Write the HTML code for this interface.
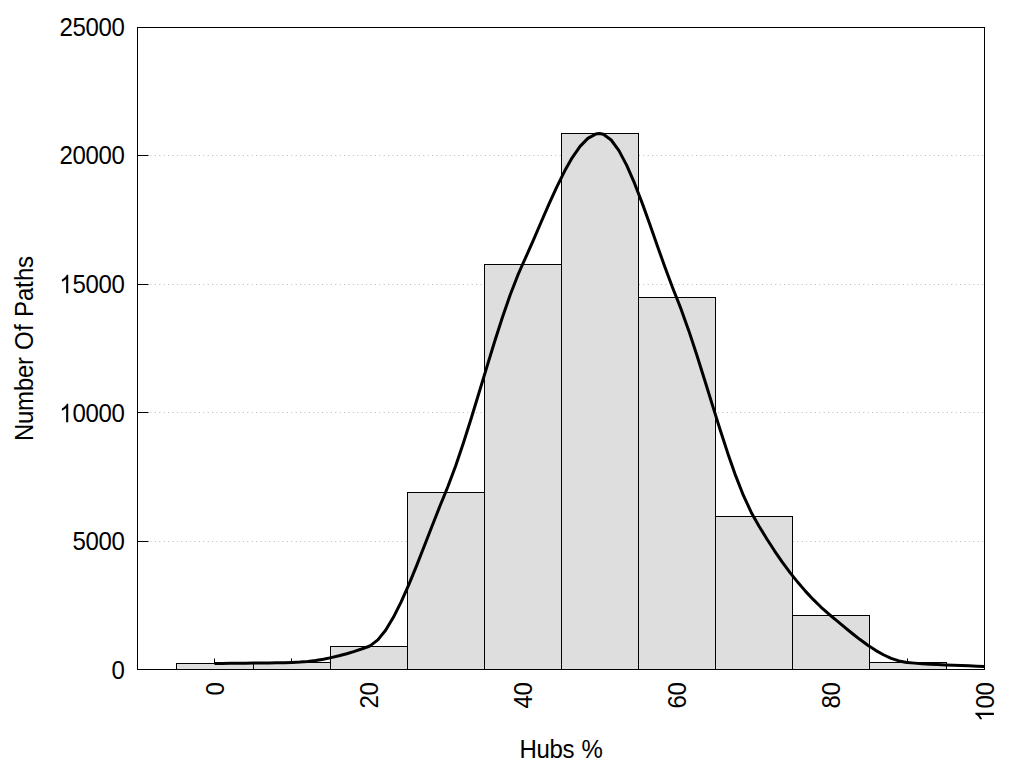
<!DOCTYPE html>
<html><head><meta charset="utf-8"><title>Hubs histogram</title>
<style>
html,body{margin:0;padding:0;background:#fff;}
body{width:1024px;height:768px;overflow:hidden;}
svg{display:block;}
text{font-family:"Liberation Sans",sans-serif;font-size:24px;fill:#000;}
</style></head><body>
<svg width="1024" height="768" viewBox="0 0 1024 768">
<rect x="0" y="0" width="1024" height="768" fill="#ffffff"/>

<g stroke="#b8b8b8" stroke-width="1" stroke-dasharray="1 3.4" fill="none">
<line x1="137.3" y1="155.5" x2="984.5" y2="155.5"/>
<line x1="137.3" y1="284.5" x2="984.5" y2="284.5"/>
<line x1="137.3" y1="412.5" x2="984.5" y2="412.5"/>
<line x1="137.3" y1="541.5" x2="984.5" y2="541.5"/>
</g>
<g stroke="#000" stroke-width="1" fill="none">
<line x1="137.5" y1="155.5" x2="148.5" y2="155.5"/>
<line x1="137.5" y1="284.5" x2="148.5" y2="284.5"/>
<line x1="137.5" y1="412.5" x2="148.5" y2="412.5"/>
<line x1="137.5" y1="541.5" x2="148.5" y2="541.5"/>
<line x1="214.5" y1="669.5" x2="214.5" y2="658.5"/>
<line x1="291.5" y1="669.5" x2="291.5" y2="658.5"/>
<line x1="368.5" y1="669.5" x2="368.5" y2="658.5"/>
<line x1="445.5" y1="669.5" x2="445.5" y2="658.5"/>
<line x1="522.5" y1="669.5" x2="522.5" y2="658.5"/>
<line x1="599.5" y1="669.5" x2="599.5" y2="658.5"/>
<line x1="676.5" y1="669.5" x2="676.5" y2="658.5"/>
<line x1="753.5" y1="669.5" x2="753.5" y2="658.5"/>
<line x1="830.5" y1="669.5" x2="830.5" y2="658.5"/>
<line x1="907.5" y1="669.5" x2="907.5" y2="658.5"/>
</g>
<g fill="#dedede" stroke="#000" stroke-width="1">
<rect x="176.5" y="663.5" width="77.0" height="6.0"/>
<rect x="253.5" y="662.5" width="77.0" height="7.0"/>
<rect x="330.5" y="646.5" width="77.0" height="23.0"/>
<rect x="407.5" y="492.5" width="77.0" height="177.0"/>
<rect x="484.5" y="264.5" width="77.0" height="405.0"/>
<rect x="561.5" y="133.5" width="77.0" height="536.0"/>
<rect x="638.5" y="297.5" width="77.0" height="372.0"/>
<rect x="715.5" y="516.5" width="77.0" height="153.0"/>
<rect x="792.5" y="615.5" width="77.0" height="54.0"/>
<rect x="869.5" y="662.5" width="77.0" height="7.0"/>
</g>
<polyline points="214.50,663.50 222.28,663.41 230.06,663.33 237.83,663.25 245.61,663.18 253.39,663.11 261.17,663.02 268.94,662.92 276.72,662.80 284.50,662.66 291.50,662.50 292.28,662.48 300.06,662.10 307.83,661.43 315.61,660.45 323.39,659.19 331.17,657.64 338.94,655.82 346.72,653.72 354.50,651.37 362.28,648.76 368.50,646.50 370.06,645.83 377.83,639.92 385.61,630.23 393.39,617.34 401.17,601.84 408.94,584.32 416.72,565.36 424.50,545.57 432.28,525.51 440.06,505.79 445.50,492.50 447.83,486.79 455.61,466.01 463.39,443.02 471.17,418.48 478.94,393.03 486.72,367.34 494.50,342.05 502.28,317.83 510.06,295.32 517.83,275.18 522.50,264.50 525.61,257.68 533.39,240.04 541.17,221.99 548.94,204.13 556.72,187.05 564.50,171.34 572.28,157.60 580.06,146.41 587.83,138.37 595.61,134.07 599.50,133.50 603.39,134.26 611.17,140.00 618.94,150.65 626.72,165.35 634.50,183.21 642.28,203.38 650.06,224.99 657.83,247.16 665.61,269.04 673.39,289.74 676.50,297.50 681.17,309.38 688.94,331.13 696.72,354.73 704.50,379.46 712.28,404.62 720.06,429.51 727.83,453.41 735.61,475.63 743.39,495.46 751.17,512.19 753.50,516.50 758.94,525.94 766.72,538.76 774.50,550.80 782.28,562.06 790.06,572.57 797.83,582.33 805.61,591.36 813.39,599.67 821.17,607.28 828.94,614.20 830.50,615.50 836.72,620.68 844.50,627.15 852.28,633.50 860.06,639.58 867.83,645.24 875.61,650.35 883.39,654.76 891.17,658.34 898.94,660.94 906.72,662.42 907.50,662.50 914.50,663.12 922.28,663.69 930.06,664.17 937.83,664.56 945.61,664.91 953.39,665.21 961.17,665.50 968.94,665.80 976.72,666.13 984.50,666.50" fill="none" stroke="#000" stroke-width="3" stroke-linejoin="round" stroke-linecap="butt"/>
<rect x="137.5" y="27.5" width="847.0" height="642.0" fill="none" stroke="#000" stroke-width="1"/>
<g transform="translate(59.60,35.70)"><text x="0" y="0" transform="scale(1,1.105)">2</text><text x="13" y="0" transform="scale(1,1.105)">5</text><text x="26" y="0" transform="scale(1,1.105)">0</text><text x="39" y="0" transform="scale(1,1.105)">0</text><text x="52" y="0" transform="scale(1,1.105)">0</text></g>
<g transform="translate(59.60,164.40)"><text x="0" y="0" transform="scale(1,1.105)">2</text><text x="13" y="0" transform="scale(1,1.105)">0</text><text x="26" y="0" transform="scale(1,1.105)">0</text><text x="39" y="0" transform="scale(1,1.105)">0</text><text x="52" y="0" transform="scale(1,1.105)">0</text></g>
<g transform="translate(59.60,292.95)"><path transform="translate(-0.30,0.4) scale(0.011719,-0.012598)" d="M763 0H583V1147Q518 1085 412.5 1023T223 930V1104Q374 1175 487 1276T647 1472H763Z"/><text x="13" y="0" transform="scale(1,1.105)">5</text><text x="26" y="0" transform="scale(1,1.105)">0</text><text x="39" y="0" transform="scale(1,1.105)">0</text><text x="52" y="0" transform="scale(1,1.105)">0</text></g>
<g transform="translate(59.60,421.95)"><path transform="translate(-0.30,0.4) scale(0.011719,-0.012598)" d="M763 0H583V1147Q518 1085 412.5 1023T223 930V1104Q374 1175 487 1276T647 1472H763Z"/><text x="13" y="0" transform="scale(1,1.105)">0</text><text x="26" y="0" transform="scale(1,1.105)">0</text><text x="39" y="0" transform="scale(1,1.105)">0</text><text x="52" y="0" transform="scale(1,1.105)">0</text></g>
<g transform="translate(72.60,549.60)"><text x="0" y="0" transform="scale(1,1.105)">5</text><text x="13" y="0" transform="scale(1,1.105)">0</text><text x="26" y="0" transform="scale(1,1.105)">0</text><text x="39" y="0" transform="scale(1,1.105)">0</text></g>
<g transform="translate(111.60,678.60)"><text x="0" y="0" transform="scale(1,1.105)">0</text></g>
<g transform="translate(223.50,695.50) rotate(-90)"><text x="0" y="0" transform="scale(1,1.105)">0</text></g>
<g transform="translate(377.50,708.50) rotate(-90)"><text x="0" y="0" transform="scale(1,1.105)">2</text><text x="13" y="0" transform="scale(1,1.105)">0</text></g>
<g transform="translate(531.50,708.50) rotate(-90)"><text x="0" y="0" transform="scale(1,1.105)">4</text><text x="13" y="0" transform="scale(1,1.105)">0</text></g>
<g transform="translate(685.50,708.50) rotate(-90)"><text x="0" y="0" transform="scale(1,1.105)">6</text><text x="13" y="0" transform="scale(1,1.105)">0</text></g>
<g transform="translate(839.50,708.50) rotate(-90)"><text x="0" y="0" transform="scale(1,1.105)">8</text><text x="13" y="0" transform="scale(1,1.105)">0</text></g>
<g transform="translate(993.50,721.50) rotate(-90)"><path transform="translate(-0.30,0.4) scale(0.011719,-0.012598)" d="M763 0H583V1147Q518 1085 412.5 1023T223 930V1104Q374 1175 487 1276T647 1472H763Z"/><text x="13" y="0" transform="scale(1,1.105)">0</text><text x="26" y="0" transform="scale(1,1.105)">0</text></g>
<g transform="translate(33.00,441.00) rotate(-90)"><text x="0" y="0" transform="scale(1,1.065)">N</text><text x="17" y="0" transform="scale(1,1.065)">u</text><text x="30" y="0" transform="scale(1,1.065)">m</text><text x="50" y="0" transform="scale(1,1.065)">b</text><text x="63" y="0" transform="scale(1,1.065)">e</text><text x="76" y="0" transform="scale(1,1.065)">r</text><text x="91" y="0" transform="scale(1,1.065)">O</text><text x="110" y="0" transform="scale(1,1.065)">f</text><text x="124" y="0" transform="scale(1,1.065)">P</text><text x="140" y="0" transform="scale(1,1.065)">a</text><text x="153" y="0" transform="scale(1,1.065)">t</text><text x="160" y="0" transform="scale(1,1.065)">h</text><text x="173" y="0" transform="scale(1,1.065)">s</text></g>
<g transform="translate(519.60,757.50)"><text x="0" y="0" transform="scale(1,1.065)">H</text><text x="17" y="0" transform="scale(1,1.065)">u</text><text x="30" y="0" transform="scale(1,1.065)">b</text><text x="43" y="0" transform="scale(1,1.065)">s</text><text x="62" y="0" transform="scale(1,1.065)">%</text></g>
</svg></body></html>
